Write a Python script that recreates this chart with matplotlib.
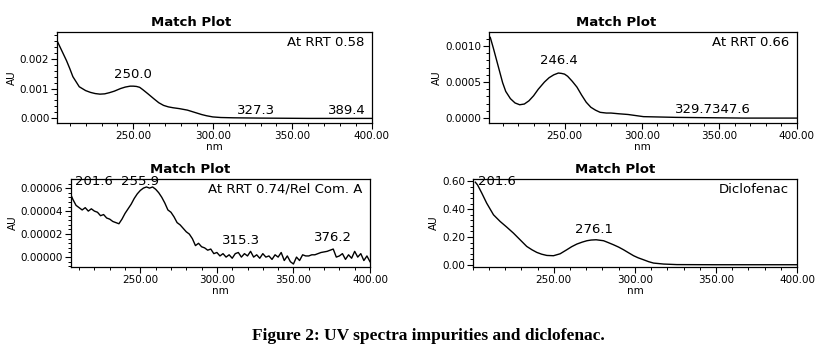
import matplotlib.pyplot as plt
import numpy as np
from matplotlib.ticker import AutoMinorLocator, MultipleLocator, FormatStrFormatter

plt.rcParams['font.family'] = ['DejaVu Sans']

# --- Spectrum at RRT 0.58 (AU) ---
nm_a = [202, 205, 208, 210, 212, 216, 220, 223, 226, 229, 232, 235, 238, 242, 245, 248, 250,
        252, 254, 256, 259, 263, 266, 269, 272, 275, 279, 284, 287, 290, 293, 296, 300, 305,
        313, 330, 360, 400]
au_a = [0.00262, 0.00228, 0.00194, 0.00168, 0.00140, 0.00106, 0.00093, 0.00087, 0.00083,
        0.00081, 0.00082, 0.00086, 0.00091, 0.00100, 0.00105, 0.00108, 0.00108, 0.00107,
        0.00104, 0.00096, 0.00083, 0.00065, 0.00052, 0.00043, 0.00038, 0.00035, 0.00032,
        0.00027, 0.00022, 0.00017, 0.00012, 0.00008, 0.00004, 0.00002, 0.00001, 0.0,
        -0.00001, -0.00001]

# --- Spectrum at RRT 0.66 (AU) ---
nm_b = [202, 204, 206, 208, 210, 212, 215, 218, 221, 224, 227, 230, 233, 237, 240, 243, 246,
        248, 250, 252, 255, 258, 261, 264, 267, 270, 273, 277, 280, 285, 291, 301, 322, 344,
        366, 400]
au_b = [0.00112, 0.00097, 0.00081, 0.00065, 0.00049, 0.00037, 0.00027, 0.00021, 0.000185,
        0.000195, 0.00024, 0.00031, 0.00040, 0.00050, 0.00056, 0.00060, 0.000625, 0.00062,
        0.00061, 0.00058, 0.00051, 0.00043, 0.00032, 0.00022, 0.00015, 0.00011, 0.00008,
        0.00007, 0.00007, 0.00006, 0.00005, 0.00002, 0.00001, 0.000005, 0.0, 0.0]

# --- Spectrum at RRT 0.74 / Rel Com. A (units of 1e-5 AU), 2 nm steps ---
nm_c = list(range(204, 401, 2))
au_c_e5 = [5.6, 5.0, 4.5, 4.3, 4.1, 4.3, 4.0, 4.2, 4.0, 3.9, 3.6, 3.7, 3.4, 3.3, 3.1, 3.0,
           2.9, 3.3, 3.8, 4.2, 4.6, 5.1, 5.5, 5.8, 6.0, 6.1, 6.0, 6.1, 5.9, 5.6, 5.2, 4.7,
           4.1, 3.9, 3.5, 3.0, 2.8, 2.5, 2.2, 2.0, 1.6, 1.0, 1.2, 0.9, 0.8, 0.6, 0.7, 0.3,
           0.4, 0.1, 0.3, 0.0, 0.2, -0.1, 0.3, 0.4, 0.0, 0.3, 0.1, 0.5, 0.0, 0.2, -0.1, 0.3,
           0.0, 0.1, -0.2, 0.2, 0.0, 0.4, -0.3, 0.1, -0.4, -0.6, 0.0, -0.3, 0.2, 0.1, 0.1,
           0.2, 0.2, 0.3, 0.4, 0.45, 0.5, 0.6, 0.7, 0.0, 0.1, 0.3, -0.2, 0.2, -0.1, 0.5, 0.0,
           0.3, -0.3, 0.1, -0.4]

# --- Diclofenac (AU) ---
nm_d = [201.6, 203, 205.6, 208.6, 212.8, 216.9, 221, 225.1, 229.2, 233.3, 236.5, 239.5,
        242.5, 245.7, 249.8, 253.9, 258, 261, 264.2, 267.5, 270.4, 273, 276.1, 280.7, 283.5,
        286.8, 290, 293, 296, 299.2, 302, 305.3, 308.5, 311.5, 317.7, 325.9, 350, 400]
au_d = [0.595, 0.575, 0.516, 0.444, 0.360, 0.312, 0.271, 0.228, 0.180, 0.132, 0.108, 0.089,
        0.076, 0.067, 0.065, 0.079, 0.108, 0.130, 0.149, 0.163, 0.173, 0.178, 0.180, 0.173,
        0.160, 0.144, 0.127, 0.108, 0.087, 0.065, 0.050, 0.036, 0.022, 0.012, 0.005, 0.001,
        0.0, 0.0]

# peak labels: (text, x nm, y)
peaks_a = [('250.0', 250, 0.00125), ('327.3', 327, 0.00005), ('389.4', 384, 0.00005)]
peaks_b = [('246.4', 246.3, 0.00071), ('329.7347.6', 345.7, 0.00003)]
peaks_c = [('201.6', 219.5, 0.0000605), ('255.9', 250, 0.0000605), ('315.3', 316, 0.0000085),
           ('376.2', 376, 0.0000115)]
peaks_d = [('201.6', 215, 0.555), ('276.1', 274.5, 0.205)]

fig = plt.figure(figsize=(8.2, 3.59), dpi=100)

panels = [
    # rect, x, y, xlim, ylim, ticks, fmt, peaks, name, title x
    ([0.0695, 0.657, 0.384, 0.253], nm_a, au_a, (202, 400), (-0.00017, 0.0029),
     [0.000, 0.001, 0.002], '%.3f', peaks_a, 'At RRT 0.58', 0.425),
    ([0.596, 0.657, 0.3756, 0.253], nm_b, au_b, (201, 400), (-0.00007, 0.00119),
     [0.0, 0.0005, 0.0010], '%.4f', peaks_b, 'At RRT 0.66', 0.415),
    ([0.0862, 0.256, 0.365, 0.245], nm_c, np.array(au_c_e5) * 1e-5, (204.5, 400),
     (-0.0000087, 0.0000678), [0.0, 0.00002, 0.00004, 0.00006], '%.5f', peaks_c,
     'At RRT 0.74/Rel Com. A', 0.4),
    ([0.5765, 0.256, 0.3955, 0.245], nm_d, au_d, (200, 400), (-0.017, 0.617),
     [0.0, 0.2, 0.4, 0.6], '%.2f', peaks_d, 'Diclofenac', 0.44),
]

for rect, x, y, xlim, ylim, yt, fmt, peaks, name, tx in panels:
    ax = fig.add_axes(rect)
    ax.plot(x, y, color='black', linewidth=1.0)
    ax.set_xlim(*xlim)
    ax.set_ylim(*ylim)
    ax.set_xticks([250, 300, 350, 400])
    ax.xaxis.set_major_formatter(FormatStrFormatter('%.2f'))
    ax.xaxis.set_minor_locator(MultipleLocator(10))
    ax.set_yticks(yt)
    ax.yaxis.set_major_formatter(FormatStrFormatter(fmt))
    ax.yaxis.set_minor_locator(AutoMinorLocator(5))
    ax.tick_params(axis='both', which='major', labelsize=7.5, length=4, width=0.8, pad=1.5)
    ax.tick_params(axis='both', which='minor', length=2.5, width=0.7)
    for s in ax.spines.values():
        s.set_linewidth(0.9)
    ax.set_xlabel('nm', fontsize=7.5, labelpad=1)
    ax.set_ylabel('AU', fontsize=7.5, labelpad=2)
    ax.text(tx, 1.04, 'Match Plot', transform=ax.transAxes, ha='center', va='bottom',
            fontsize=9.5, fontweight='bold')
    ax.text(0.975, 0.96, name, transform=ax.transAxes, ha='right', va='top', fontsize=9.5)
    for label, px, py in peaks:
        ax.text(px, py, label, ha='center', va='bottom', fontsize=9.5)

fig.text(0.522, 0.064, 'Figure 2: UV spectra impurities and diclofenac.', ha='center',
         va='center', fontsize=12.5, fontweight='bold', family='Liberation Serif')

fig.savefig('out.png', dpi=100)
